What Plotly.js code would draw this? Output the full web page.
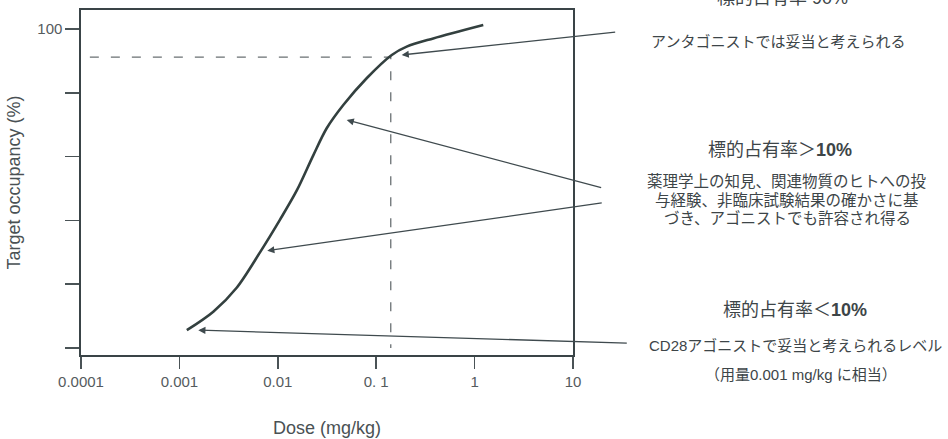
<!DOCTYPE html>
<html>
<head>
<meta charset="utf-8">
<script src="https://cdn.plot.ly/plotly-3.0.1.min.js"></script>
<style>html,body{margin:0;padding:0;background:#fff;}#chart{width:948px;height:439px;}</style>
</head>
<body>
<div id="chart"></div>
<script>
// Dose–occupancy curve
const dose = [0.00119, 0.00221, 0.00382, 0.00659, 0.0105, 0.0156, 0.023, 0.0314, 0.0463, 0.08, 0.144, 0.204, 0.38, 1.225];
const occupancy = [5.6, 11.4, 18.9, 30.0, 40.2, 49.4, 60.5, 68.9, 76.2, 84.6, 91.9, 94.5, 97.1, 101.3];

// 90% reference (dashed guide)
const refDose = [0.000123, 0.1406, 0.1406];
const refOcc = [91.2, 91.2, 0];

// Axis ticks
const xTickVals = [0.0001, 0.001, 0.01, 0.1, 1, 10];
const xTickText = ['0.0001', '0.001', '0.01', '0. 1', '1', '10'];
const yTickVals = [0, 20, 40, 60, 80, 100];
const yTickText = ['', '', '', '', '', '100'];

// Right-hand texts
const headers = ['標的占有率 90%', '標的占有率＞<b>10%</b>', '標的占有率＜<b>10%</b>'];
const bodyTop = ['アンタゴニストでは妥当と考えられる'];
const bodyMid = ['薬理学上の知見、関連物質のヒトへの投', '与経験、非臨床試験結果の確かさに基', 'づき、アゴニストでも許容され得る'];
const bodyLow = ['CD28アゴニストで妥当と考えられるレベル', '（用量0.001 mg/kg に相当）'];

// Arrow targets on the curve (dose, occupancy)
const arrowDose = [0.1815, 0.0501, 0.00781, 0.001556];
const arrowOcc = [91.9, 71.5, 30.5, 5.6];

const L = 81, R = 573, T = 10, B = 355;
const px = v => (v - L) / (R - L);
const py = v => (B - v) / (B - T);

const txtColor = '#3d4548';
const jpFont = '"Liberation Sans", Arial, "Noto Sans CJK JP", sans-serif';

const annotations = [];
function addText(t, x, y, size) {
  annotations.push({text: t, xref: 'paper', yref: 'paper', x: px(x), y: py(y),
    xanchor: 'center', yanchor: 'middle', showarrow: false,
    font: {family: jpFont, size: size, color: txtColor}});
}
addText(headers[0], 782, -2, 18);
addText(bodyTop[0], 778, 42, 15);
addText(headers[1], 780, 150, 18);
const midY = [181, 200, 218];
bodyMid.forEach((t, i) => addText(t, 787, midY[i], 15.5));
addText(headers[2], 795, 310, 18);
addText(bodyLow[0], 795, 345, 15);
addText(bodyLow[1], 801, 374, 15);

// arrows: tails are pixel offsets from head
const tails = [[215, -23], [256, 68], [336, -48], [430, 13]];
arrowDose.forEach((d, i) => {
  annotations.push({text: '', xref: 'x', yref: 'y', x: Math.log10(d), y: arrowOcc[i],
    ax: tails[i][0], ay: tails[i][1], showarrow: true, arrowhead: 2, arrowsize: 1.1,
    arrowwidth: 1.3, arrowcolor: '#3f4a4e', standoff: 0, startstandoff: 0});
});

const traces = [
  {x: refDose, y: refOcc, mode: 'lines', type: 'scatter',
   line: {color: '#6a7073', width: 1.3, dash: '9px,12px'}, hoverinfo: 'skip'},
  {x: dose, y: occupancy, mode: 'lines', type: 'scatter',
   line: {color: '#33403f', width: 2.6, shape: 'spline', smoothing: 0.9}}
];

const layout = {
  width: 948, height: 439,
  margin: {l: L, r: 948 - R, t: T, b: 439 - B},
  paper_bgcolor: '#fff', plot_bgcolor: '#fff',
  showlegend: false,
  xaxis: {
    type: 'log', range: [-4, 1], tickvals: xTickVals, ticktext: xTickText,
    showgrid: false, zeroline: false, showline: true, mirror: true,
    linecolor: '#3a4447', linewidth: 1.6,
    ticks: 'outside', ticklen: 12, tickwidth: 1.5, tickcolor: '#4a5356',
    tickfont: {family: 'Liberation Sans, Arial, sans-serif', size: 15, color: '#555b5e'},
    title: {text: 'Dose (mg/kg)', standoff: 33,
      font: {family: 'Liberation Sans, Arial, sans-serif', size: 18, color: '#4a5154'}},
    automargin: false
  },
  yaxis: {
    range: [-2.2, 106], tickvals: yTickVals, ticktext: yTickText,
    showgrid: false, zeroline: false, showline: true, mirror: true,
    linecolor: '#3a4447', linewidth: 1.6,
    ticks: 'outside', ticklen: 14, tickwidth: 1.5, tickcolor: '#4a5356',
    tickfont: {family: 'Liberation Sans, Arial, sans-serif', size: 15, color: '#555b5e'},
    title: {text: 'Target occupancy (%)', standoff: 12,
      font: {family: 'Liberation Sans, Arial, sans-serif', size: 18, color: '#4a5154'}},
    automargin: false
  },
  annotations: annotations
};

Plotly.newPlot('chart', traces, layout, {displayModeBar: false, staticPlot: true});
</script>
</body>
</html>
